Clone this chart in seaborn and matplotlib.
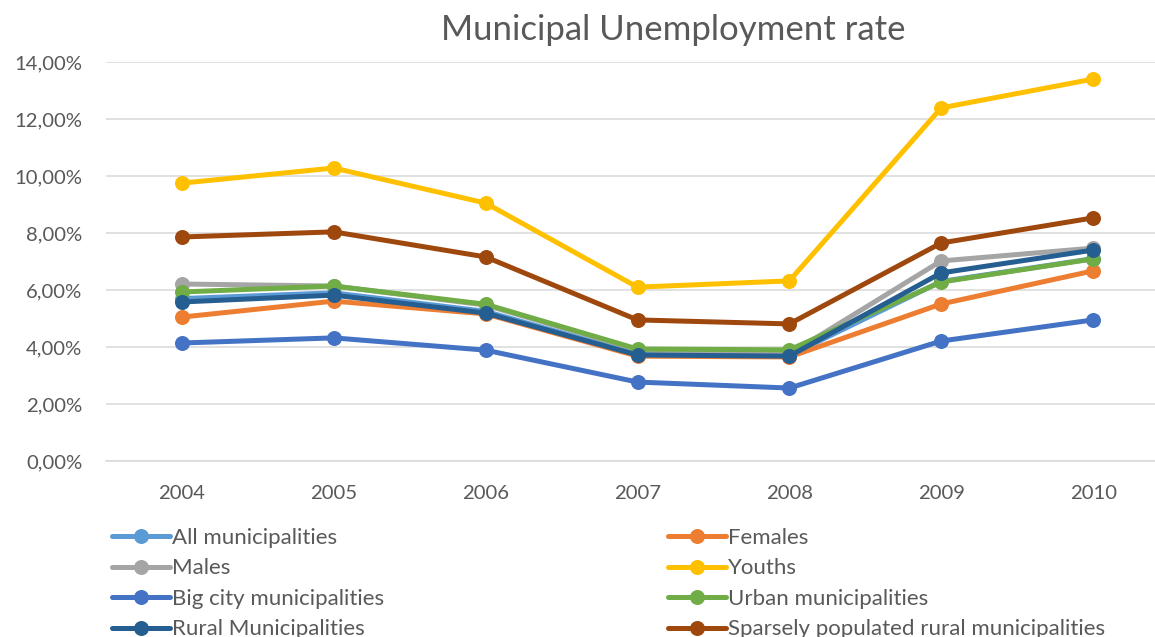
import matplotlib
matplotlib.use("Agg")
import matplotlib.pyplot as plt
from matplotlib.lines import Line2D
from matplotlib.ticker import FuncFormatter
import seaborn as sns
import pandas as pd

years = [2004, 2005, 2006, 2007, 2008, 2009, 2010]
all_municipalities = [5.70, 5.90, 5.25, 3.75, 3.70, 6.30, 7.10]
females = [5.05, 5.61, 5.16, 3.68, 3.65, 5.51, 6.67]
males = [6.21, 6.14, 5.47, 3.90, 3.75, 7.02, 7.47]
youths = [9.75, 10.28, 9.05, 6.10, 6.32, 12.39, 13.40]
big_city = [4.14, 4.32, 3.89, 2.77, 2.56, 4.21, 4.95]
urban = [5.93, 6.14, 5.50, 3.93, 3.90, 6.28, 7.09]
rural = [5.58, 5.82, 5.19, 3.72, 3.68, 6.60, 7.40]
sparse = [7.86, 8.04, 7.16, 4.95, 4.81, 7.65, 8.53]

series_names = ["All municipalities", "Females", "Males", "Youths",
                "Big city municipalities", "Urban municipalities",
                "Rural Municipalities", "Sparsely populated rural municipalities"]
series_values = [all_municipalities, females, males, youths, big_city, urban, rural, sparse]
colors = ["#5B9BD5", "#ED7D31", "#A5A5A5", "#FFC000", "#4472C4", "#70AD47", "#255E91", "#9E480E"]

rows = []
for name, vals in zip(series_names, series_values):
    for y, v in zip(years, vals):
        rows.append({"Year": y, "Rate": v, "Series": name})
df = pd.DataFrame(rows)

sns.set_theme(style="white")
plt.rcParams["font.family"] = ["Lato", "DejaVu Sans"]
text_color = "#595959"

fig = plt.figure(figsize=(11.55, 6.37), dpi=100)
ax = fig.add_axes([106 / 1155, 1 - 461 / 637, 1063 / 1155, 399 / 637])

LW = 3.6
MS = 10.8
palette = dict(zip(series_names, colors))
for name in series_names:
    sns.lineplot(data=df[df["Series"] == name], x="Year", y="Rate", color=palette[name],
                 marker="o", markersize=MS, markeredgewidth=0, linewidth=LW,
                 ax=ax, legend=False, zorder=3)

ax.set_xlim(2003.5, 2010.5)
ax.set_ylim(0, 14)
ax.set_yticks(range(0, 15, 2))
ax.yaxis.set_major_formatter(FuncFormatter(lambda v, p: f"{v:.2f}%".replace(".", ",")))
ax.set_xticks(years)
ax.set_xticklabels([str(y) for y in years])
ax.grid(axis="y", color="#d9d9d9", linewidth=1.1, zorder=0)
ax.grid(axis="x", visible=False)
for s in ["top", "right", "left"]:
    ax.spines[s].set_visible(False)
ax.spines["bottom"].set_color("#d9d9d9")
ax.spines["bottom"].set_linewidth(1.1)
ax.tick_params(axis="both", length=0, labelsize=14.6, colors=text_color)
ax.tick_params(axis="y", pad=17)
ax.tick_params(axis="x", pad=17)
ax.set_xlabel("")
ax.set_ylabel("")

fig.text(673 / 1155, 1 - 30 / 637, "Municipal Unemployment rate", ha="center", va="center",
         fontsize=25, color=text_color)

def make_handles(idx):
    return [Line2D([0], [0], color=colors[i], linewidth=LW, marker="o", markersize=MS,
                   markeredgewidth=0) for i in idx]

left_idx = [0, 2, 4, 6]
right_idx = [1, 3, 5, 7]
common = dict(loc="upper left", frameon=False, fontsize=16, handlelength=2.6,
              handletextpad=0.08, labelspacing=0.47, borderaxespad=0, borderpad=0,
              labelcolor=text_color)
leg1 = fig.legend(make_handles(left_idx), [series_names[i] for i in left_idx],
                  bbox_to_anchor=(112 / 1155, 1 - 528 / 637), **common)
leg2 = fig.legend(make_handles(right_idx), [series_names[i] for i in right_idx],
                  bbox_to_anchor=(668 / 1155, 1 - 528 / 637), **common)

fig.savefig("out.png", dpi=100)
